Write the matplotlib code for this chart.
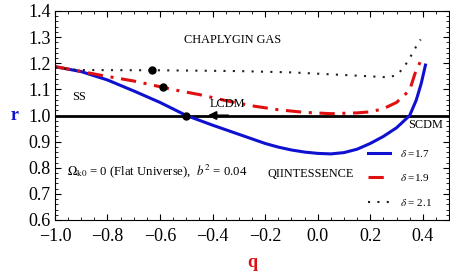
import numpy as np
import matplotlib.pyplot as plt
from matplotlib.ticker import MultipleLocator

plt.rcParams['font.family'] = ['Liberation Serif', 'DejaVu Serif']
plt.rcParams['mathtext.fontset'] = 'stix'

# delta = 1.7 (blue solid)
q1 = [-1.0, -0.9, -0.8, -0.7, -0.6, -0.5, -0.4, -0.3, -0.2, -0.15, -0.1, -0.05, 0.0,
      0.05, 0.1, 0.15, 0.2, 0.25, 0.3, 0.35, 0.375, 0.394, 0.41]
r1 = [1.187, 1.168, 1.136, 1.094, 1.05, 1.0, 0.963, 0.928, 0.893, 0.879, 0.868, 0.86,
      0.855, 0.853, 0.858, 0.871, 0.893, 0.92, 0.953, 1.0, 1.059, 1.123, 1.193]

# delta = 1.9 (red dash-dot)
q2 = [-1.0, -0.95, -0.83, -0.7, -0.59, -0.54, -0.45, -0.35, -0.25, -0.15, -0.05,
      0.05, 0.15, 0.2, 0.25, 0.3, 0.35, 0.37, 0.39, 0.40]
r2 = [1.187, 1.178, 1.155, 1.132, 1.108, 1.097, 1.08, 1.057, 1.037, 1.022, 1.012,
      1.007, 1.01, 1.014, 1.026, 1.05, 1.097, 1.16, 1.205, 1.23]

# delta = 2.1 (black dotted)
q3 = [-1.0, -0.95, -0.9, -0.6, -0.3, -0.1, 0.0, 0.1, 0.2, 0.27, 0.3, 0.32,
      0.34, 0.36, 0.38, 0.392]
r3 = [1.185, 1.177, 1.174, 1.173, 1.17, 1.165, 1.16, 1.155, 1.15, 1.146, 1.155, 1.175,
      1.203, 1.237, 1.274, 1.291]

# marked points
dot_q = [-0.632, -0.588, -0.5]
dot_r = [1.173, 1.108, 1.0]

fig = plt.figure(figsize=(4.5, 2.75), dpi=100)
ax = fig.add_axes([0.122, 0.2, 0.876, 0.76])

ax.axhline(1.0, color='black', lw=2, zorder=2)
ax.annotate('', xy=(-0.43, 1.0), xytext=(-0.33, 1.0),
            arrowprops=dict(arrowstyle='-|>', color='black', lw=1.5,
                            mutation_scale=12))

ax.plot(q1, r1, color='#1010d0', lw=2.2, label=r'$\delta$ =1.7')
ax.plot(q2, r2, color='#e01010', lw=2.2, dashes=(5, 2.5, 1, 2.5),
        label=r'$\delta$ =1.9')
ax.plot(q3, r3, color='#202020', lw=1.5, dashes=(1, 3.5),
        label=r'$\delta$ = 2.1')
ax.plot(dot_q, dot_r, 'o', color='black', ms=5, zorder=5)

fs = 8.8
ax.text(-0.51, 1.29, 'CHAPLYGIN GAS', fontsize=fs, va='center')
ax.text(-0.935, 1.07, 'SS', fontsize=fs, va='center')
ax.text(-0.41, 1.045, 'LCDM', fontsize=fs, va='center')
ax.text(0.343, 0.962, 'SCDM', fontsize=fs, va='center')
ax.text(-0.955, 0.785, r'$\Omega_{\rm k0}$ = 0 (Flat Universe),  $b^2$ = 0.04',
        fontsize=9.2, va='center')
ax.text(-0.19, 0.775, 'QIINTESSENCE', fontsize=fs, va='center')

ax.legend(loc='upper left', bbox_to_anchor=(0.794, 0.345), frameon=False,
          fontsize=8, handlelength=2.0, handletextpad=0.9, labelspacing=1.2,
          borderpad=0, borderaxespad=0)

ax.set_xlim(-1.0, 0.5)
ax.set_ylim(0.6, 1.4)
ax.xaxis.set_major_locator(MultipleLocator(0.2))
ax.xaxis.set_minor_locator(MultipleLocator(0.05))
ax.yaxis.set_major_locator(MultipleLocator(0.1))
ax.yaxis.set_minor_locator(MultipleLocator(0.02))
ax.tick_params(which='both', direction='in', top=True, right=True, labelsize=13)
ax.tick_params(which='major', length=4.5)
ax.tick_params(which='minor', length=2.5)
ax.tick_params(axis='x', pad=6)
ax.tick_params(axis='y', pad=3)

ax.set_xlabel('q', color='#e01010', fontsize=13, fontweight='bold', labelpad=6)
ax.set_ylabel('r', color='#1010d0', fontsize=13, fontweight='bold', rotation=0,
              labelpad=10, va='center')

fig.savefig('out.png', dpi=100)
